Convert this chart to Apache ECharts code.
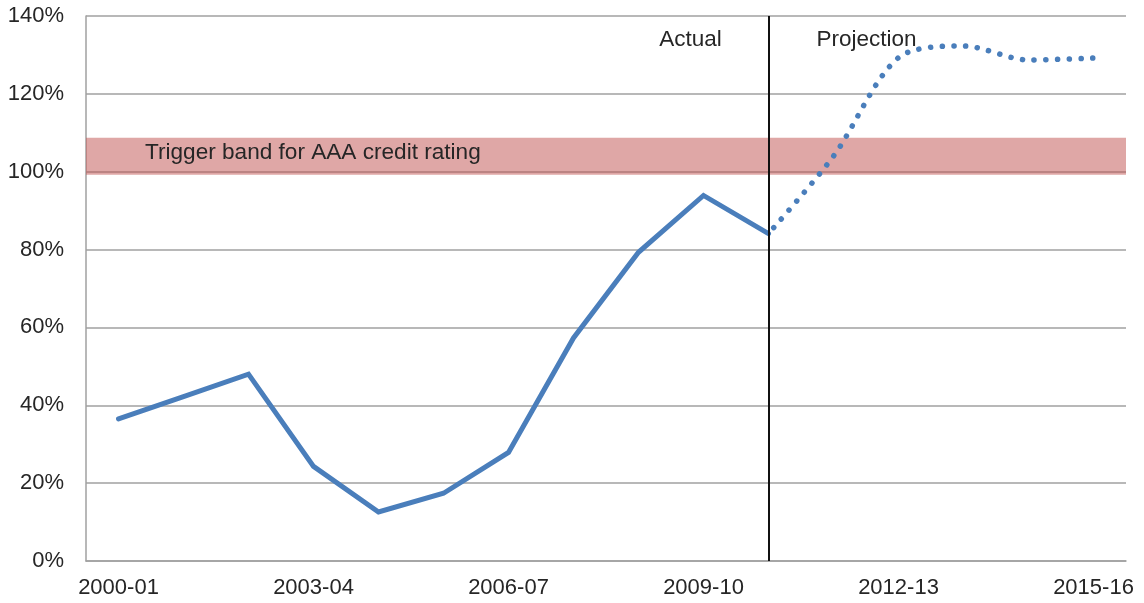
<!DOCTYPE html>
<html>
<head>
<meta charset="utf-8">
<script src="https://cdn.jsdelivr.net/npm/echarts@6/dist/echarts.min.js"></script>
<style>
html,body{margin:0;padding:0;background:#fff;}
#chart{width:1144px;height:603px;}
</style>
</head>
<body>
<div id="chart"></div>
<script>
const categories = ['2000-01','2001-02','2002-03','2003-04','2004-05','2005-06','2006-07','2007-08','2008-09','2009-10','2010-11','2011-12','2012-13','2013-14','2014-15','2015-16'];
const actual = [36.5, 42.2, 48.0, 24.3, 12.6, 17.4, 27.9, 57.3, 79.3, 93.9, 84.1, null, null, null, null, null];
const projection = [null, null, null, null, null, null, null, null, null, null, 84.1, 104.0, 129.3, 132.3, 128.7, 129.2];
const triggerBand = [99.2, 108.7];
const dividerCategory = '2010-11';
const yTicks = [0, 20, 40, 60, 80, 100, 120, 140];

const FONT = 'Liberation Sans, Arial, sans-serif';
const TEXT = '#262626';
const BLUE = '#4a7ebb';

const chart = echarts.init(document.getElementById('chart'), null, {renderer: 'canvas'});
chart.setOption({
  animation: false,
  backgroundColor: '#fff',
  grid: {left: 86, right: 18, top: 16, bottom: 42, containLabel: false},
  xAxis: {
    type: 'category',
    data: categories,
    boundaryGap: true,
    axisLine: {show: true, lineStyle: {color: '#a0a0a0', width: 1.5}},
    axisTick: {show: false},
    axisLabel: {interval: 2, margin: 16, fontSize: 22, fontFamily: FONT, color: TEXT},
    splitLine: {show: false}
  },
  yAxis: {
    type: 'value',
    min: yTicks[0],
    max: yTicks[yTicks.length - 1],
    interval: 20,
    axisLine: {show: true, lineStyle: {color: '#a0a0a0', width: 1.5}},
    axisTick: {show: false},
    axisLabel: {formatter: '{value}%', margin: 22, fontSize: 22, fontFamily: FONT, color: TEXT},
    splitLine: {show: true, lineStyle: {color: '#a0a0a0', width: 1.5}}
  },
  series: [
    {
      name: 'Actual',
      type: 'line',
      data: actual,
      z: 3,
      symbol: 'none',
      lineStyle: {color: BLUE, width: 5, cap: 'round', join: 'miter'}
    },
    {
      name: 'Projection',
      type: 'line',
      data: projection,
      z: 3,
      smooth: 0.3,
      symbol: 'none',
      lineStyle: {color: BLUE, width: 5.5, type: [0.1, 11.6], cap: 'round', dashOffset: -8}
    },
    {
      name: 'Band',
      type: 'line',
      data: categories.map(() => null),
      z: 5,
      symbol: 'none',
      silent: true,
      markArea: {
        silent: true,
        itemStyle: {color: 'rgba(192,80,77,0.5)'},
        label: {
          show: true, position: 'insideLeft', offset: [54, -4],
          fontSize: 22.6, fontFamily: FONT, color: TEXT
        },
        data: [[{name: 'Trigger band for AAA credit rating', yAxis: triggerBand[0]}, {yAxis: triggerBand[1]}]]
      }
    },
    {
      name: 'Divider',
      type: 'line',
      data: categories.map(() => null),
      z: 6,
      symbol: 'none',
      silent: true,
      markLine: {
        silent: true,
        symbol: ['none', 'none'],
        label: {show: false},
        lineStyle: {color: '#111', width: 2, type: 'solid'},
        data: [{xAxis: dividerCategory}]
      },
      markPoint: {
        silent: true,
        symbol: 'circle',
        symbolSize: 0,
        label: {show: true, fontSize: 22.5, fontFamily: FONT, color: TEXT},
        data: [
          {name: 'Actual', coord: [dividerCategory, 134.6], value: 'Actual', label: {formatter: 'Actual', offset: [-78, 3]}},
          {name: 'Projection', coord: [dividerCategory, 134.6], value: 'Projection', label: {formatter: 'Projection', offset: [98, 3]}}
        ]
      }
    }
  ]
});
</script>
</body>
</html>
